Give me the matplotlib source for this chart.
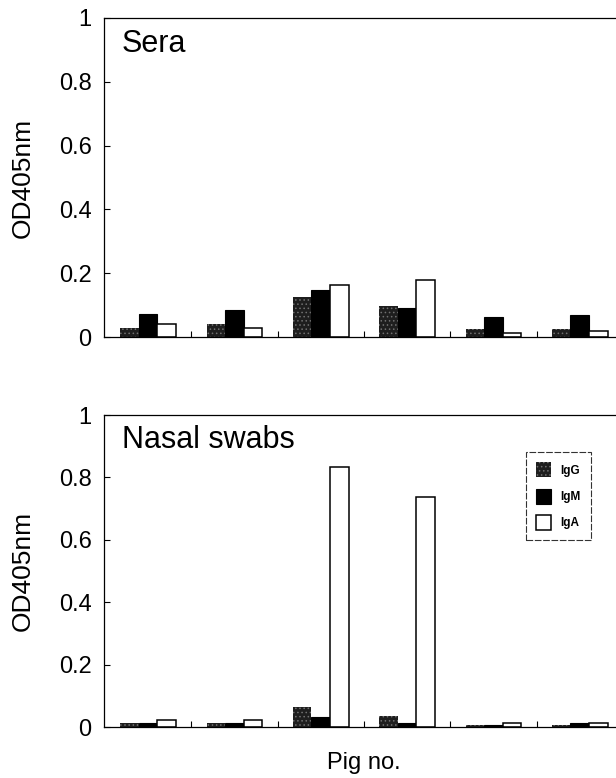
import matplotlib
matplotlib.use('Agg')
import matplotlib.pyplot as plt
import numpy as np

plt.rcParams['font.family'] = ['Liberation Sans', 'DejaVu Sans']
plt.rcParams['hatch.color'] = '#707070'
plt.rcParams['hatch.linewidth'] = 0.6

# Data (OD405nm per pig, 6 pigs)
pigs = ['1', '2', '3', '4', '5', '6']
isotypes = ['IgG', 'IgM', 'IgA']

sera_igg = [0.027, 0.040, 0.125, 0.097, 0.024, 0.026]
sera_igm = [0.071, 0.084, 0.147, 0.090, 0.062, 0.069]
sera_iga = [0.040, 0.027, 0.163, 0.180, 0.011, 0.018]

nasal_igg = [0.014, 0.012, 0.065, 0.036, 0.007, 0.006]
nasal_igm = [0.014, 0.012, 0.031, 0.014, 0.007, 0.012]
nasal_iga = [0.021, 0.024, 0.833, 0.737, 0.012, 0.012]


def draw_panel(ax, igg, igm, iga, title):
    x = np.arange(len(pigs))
    w = 0.215
    ax.bar(x - w, igg, w, color='#1e1e1e', hatch='....', linewidth=0, label='IgG')
    ax.bar(x, igm, w, color='black', edgecolor='black', linewidth=0.8, label='IgM')
    ax.bar(x + w, iga, w, color='white', edgecolor='black', linewidth=1.1, label='IgA')

    ax.set_xlim(-0.51, 5.42)
    ax.set_ylim(0, 1)
    ax.set_yticks([0, 0.2, 0.4, 0.6, 0.8, 1])
    ax.set_yticklabels(['0', '0.2', '0.4', '0.6', '0.8', '1'])
    ax.set_xticks(np.arange(0.5, 5, 1))
    ax.set_xticklabels([])
    ax.tick_params(axis='y', direction='in', length=4, width=0.8, labelsize=17, pad=9)
    ax.tick_params(axis='x', direction='in', length=4, width=0.8)
    ax.spines['right'].set_visible(False)
    for s in ['left', 'top', 'bottom']:
        ax.spines[s].set_linewidth(0.9)
    ax.set_ylabel('OD405nm', fontsize=19, labelpad=17)
    ax.text(0.035, 0.92, title, transform=ax.transAxes, fontsize=22,
            ha='left', va='center')


fig = plt.figure(figsize=(6.16, 7.78), dpi=100)

ax1 = fig.add_axes([104/616, 1 - 337/778, 1 - 104/616, 319/778])
draw_panel(ax1, sera_igg, sera_igm, sera_iga, 'Sera')

ax2 = fig.add_axes([104/616, 1 - 727/778, 1 - 104/616, 312/778])
draw_panel(ax2, nasal_igg, nasal_igm, nasal_iga, 'Nasal swabs')

leg = ax2.legend(loc='upper left', bbox_to_anchor=(0.812, 0.9),
                 prop={'size': 8.5, 'weight': 'bold'},
                 frameon=True, fancybox=False, handlelength=1.3, handleheight=1.6,
                 labelspacing=0.95, borderpad=0.85, handletextpad=0.8)
leg.get_frame().set_edgecolor('black')
leg.get_frame().set_linewidth(0.8)
leg.get_frame().set_linestyle((0, (6, 1.5)))

fig.text(364/616, 1 - 763/778, 'Pig no.', fontsize=17, ha='center', va='center')

fig.savefig('out.png', dpi=100, facecolor='white')
